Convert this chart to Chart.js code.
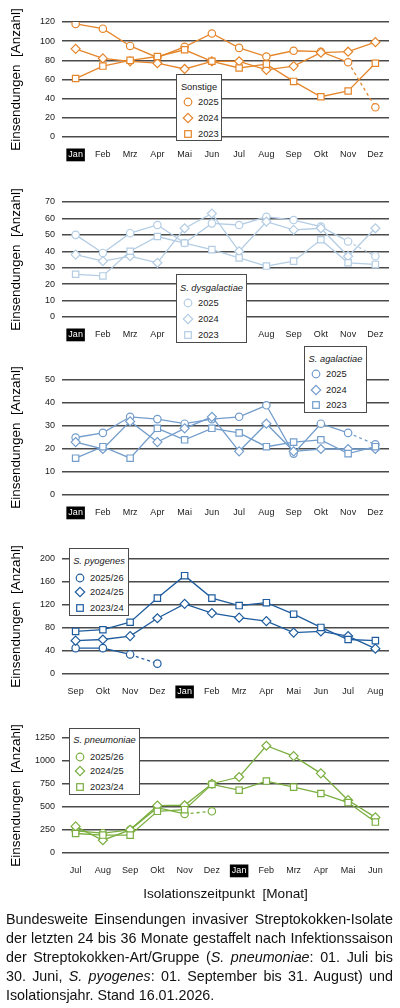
<!DOCTYPE html>
<html>
<head>
<meta charset="utf-8">
<script src="https://cdn.jsdelivr.net/npm/chart.js"></script>
<style>
  body { margin: 0; background: #fff; width: 400px; height: 1008px; position: relative; overflow: hidden;
         font-family: Arial, "Liberation Sans", sans-serif; color: #1a1a1a; }
  .panel { position: absolute; left: 0; width: 400px; height: 178px; }
  .legend { position: absolute; background: #fff; border: 1.3px solid #4a4a4a; box-sizing: border-box; z-index: 2; }
  .legend .t { position: absolute; left: 0; right: 0; text-align: center; font-size: 9.3px; line-height: 12px; margin-top: -6px; white-space: nowrap; }
  .legend .row { position: absolute; font-size: 9.3px; line-height: 12px; margin-top: -6px; white-space: nowrap; }
  .legend svg { position: absolute; }
  #xtitle { position: absolute; left: 62px; width: 327px; top: 886px; text-align: center; font-size: 13.6px; white-space: pre; color: #111; }
  #caption { position: absolute; left: 6px; width: 387px; top: 910px; font-size: 14.3px; line-height: 19px; text-align: justify; color: #111; margin: 0; }
</style>
</head>
<body>
<canvas id="c1" class="panel" width="400" height="178" style="top:0px"></canvas>
<canvas id="c2" class="panel" width="400" height="178" style="top:180px"></canvas>
<canvas id="c3" class="panel" width="400" height="178" style="top:358px"></canvas>
<canvas id="c4" class="panel" width="400" height="178" style="top:537px"></canvas>
<canvas id="c5" class="panel" width="400" height="178" style="top:716px"></canvas>

<div id="xtitle">Isolationszeitpunkt  [Monat]</div>
<p id="caption">Bundesweite Einsendungen invasiver Streptokokken-Isolate der letzten 24 bis 36 Monate gestaffelt nach Infektionssaison der Streptokokken-Art/Gruppe (<i>S. pneumoniae</i>: 01. Juli bis 30. Juni, <i>S. pyogenes</i>: 01. September bis 31. August) und Isolationsjahr. Stand 16.01.2026.</p>

<script>
// Kategorien (Monate)
const monthsCal = ['Jan', 'Feb', 'Mrz', 'Apr', 'Mai', 'Jun', 'Jul', 'Aug', 'Sep', 'Okt', 'Nov', 'Dez'];
const monthsPyo = ['Sep', 'Okt', 'Nov', 'Dez', 'Jan', 'Feb', 'Mrz', 'Apr', 'Mai', 'Jun', 'Jul', 'Aug'];
const monthsPneu = ['Jul', 'Aug', 'Sep', 'Okt', 'Nov', 'Dez', 'Jan', 'Feb', 'Mrz', 'Apr', 'Mai', 'Jun'];

// Sonstige
const sonstige2025 = [118, 113, 95, 83, 94, 108, 93, 84, 90, 89, 78, 31];
const sonstige2024 = [92, 82, 79, 77, 71, 79, 79, 70, 74, 88, 89, 99];
const sonstige2023 = [61, 74, 80, 84, 91, 79, 72, 76, 58, 42, 48, 77];

// S. dysgalactiae
const dysga2025 = [50, 39, 51, 56, 45, 57, 56, 61, 59, 55, 46, 37];
const dysga2024 = [38, 34, 37, 33, 54, 63, 40, 58, 53, 54, 37, 54];
const dysga2023 = [26, 25, 40, 49, 45, 41, 36, 31, 34, 47, 33, 32];

// S. agalactiae
const agal2025 = [25, 27, 34, 33, 31, 33, 34, 39, 18, 31, 27, 22];
const agal2024 = [23, 20, 32, 23, 29, 34, 19, 31, 19, 20, 20, 20];
const agal2023 = [16, 21, 16, 29, 24, 29, 27, 21, 23, 24, 18, 21];

// S. pyogenes (Saison Sep-Aug)
const pyo2526 = [45, 45, 34, 18];
const pyo2425 = [58, 60, 66, 97, 122, 106, 98, 92, 72, 74, 66, 44];
const pyo2324 = [74, 77, 90, 132, 171, 132, 119, 124, 104, 81, 60, 58];

// S. pneumoniae (Saison Jul-Jun)
const pneu2526 = [241, 215, 252, 493, 425, 453];
const pneu2425 = [289, 139, 252, 515, 519, 753, 826, 1166, 1053, 866, 574, 387];
const pneu2324 = [212, 195, 194, 453, 471, 746, 683, 782, 716, 647, 548, 336];

// Serien-Namen
const yearNames = ['2025', '2024', '2023'];
const seasonNames = ['2025/26', '2024/25', '2023/24'];

// y-Achsen Ticks
const ticksSonstige = [0, 20, 40, 60, 80, 100, 120];
const ticksDysga = [0, 10, 20, 30, 40, 50, 60, 70];
const ticksAgal = [0, 10, 20, 30, 40, 50];
const ticksPyo = [0, 40, 80, 120, 160, 200];
const ticksPneu = [0, 250, 500, 750, 1000, 1250];

Chart.defaults.font.family = 'Arial, "Liberation Sans", sans-serif';
Chart.defaults.color = '#1a1a1a';

const markerStyles = ['circle', 'rectRot', 'rect'];
const markerRadius = [3.7, 4.5, 4.5];

function buildPanel(canvasId, labels, series, names, color, yTicks) {
    const datasets = series.map((data, i) => ({
        label: names[i],
        data: data,
        borderColor: color,
        borderWidth: 1.3,
        pointStyle: markerStyles[i],
        pointRadius: markerRadius[i],
        pointBorderWidth: 1.2,
        pointBorderColor: color,
        pointBackgroundColor: '#fff',
        // letzter Monat der laufenden Serie gestrichelt
        segment: i === 0 ? { borderDash: c => c.p1DataIndex === data.length - 1 ? [3, 3] : undefined } : undefined
    }));
    // reihenfolge: aelteste zuerst zeichnen
    datasets.reverse();

    new Chart(document.getElementById(canvasId), {
        type: 'line',
        data: { labels: labels, datasets: datasets },
        options: {
            responsive: false,
            animation: false,
            events: [],
            layout: { padding: { top: 22, right: 11, left: 0, bottom: 0 } },
            plugins: { legend: { display: false }, tooltip: { enabled: false } },
            scales: {
                x: {
                    offset: true,
                    grid: { display: false },
                    border: { display: false },
                    afterFit: s => { s.height = 41; },
                    ticks: {
                        font: { size: 9 },
                        padding: 4.5,
                        maxRotation: 0,
                        autoSkip: false,
                        showLabelBackdrop: true,
                        backdropPadding: { left: 2, right: 2, top: 1, bottom: 1 },
                        backdropColor: c => labels[c.index] === 'Jan' ? '#000' : 'rgba(0,0,0,0)',
                        color: c => labels[c.index] === 'Jan' ? '#fff' : '#1a1a1a'
                    }
                },
                y: {
                    min: yTicks[0],
                    max: yTicks[yTicks.length - 1],
                    afterBuildTicks: s => { s.ticks = yTicks.map(v => ({ value: v })); },
                    afterFit: s => { s.width = 62; },
                    grid: { color: '#4a4a4a', lineWidth: 1.5, drawTicks: false },
                    border: { display: false },
                    ticks: { font: { size: 9 }, padding: 7, callback: v => String(v) },
                    title: {
                        display: true,
                        text: 'Einsendungen  [Anzahl]',
                        font: { size: 13.5 },
                        color: '#000',
                        padding: { top: 8, bottom: 0 }
                    }
                }
            }
        }
    });
}

// HTML-Legende (Kasten mit Titel und drei Markern)
function markerSvg(style, color) {
    let shape = '';
    if (style === 'circle') shape = `<circle cx="6" cy="6" r="3.8" fill="#fff" stroke="${color}" stroke-width="1.2"/>`;
    else if (style === 'rectRot') shape = `<polygon points="6,1.3 10.7,6 6,10.7 1.3,6" fill="#fff" stroke="${color}" stroke-width="1.2"/>`;
    else shape = `<rect x="2.7" y="2.7" width="6.6" height="6.6" fill="#fff" stroke="${color}" stroke-width="1.2"/>`;
    return `<svg width="12" height="12" viewBox="0 0 12 12">${shape}</svg>`;
}

function buildLegend(box, title, italic, names, color) {
    const div = document.createElement('div');
    div.className = 'legend';
    div.style.left = box.left + 'px';
    div.style.top = box.top + 'px';
    div.style.width = box.width + 'px';
    div.style.height = box.height + 'px';
    let html = `<div class="t" style="top:${box.titleY}px;${italic ? 'font-style:italic;' : ''}">${title}</div>`;
    names.forEach((name, i) => {
        const y = box.rows[i];
        html += `<span style="position:absolute;left:${box.markX - 6}px;top:${y - 6}px;">${markerSvg(markerStyles[i], color)}</span>`;
        html += `<div class="row" style="left:${box.textX}px;top:${y}px;">${name}</div>`;
    });
    div.innerHTML = html;
    document.body.appendChild(div);
}

const orange = '#E5862C';
const lightBlue = '#B4CDE4';
const midBlue = '#739DCB';
const darkBlue = '#1F5C9E';
const green = '#7AAE3F';

buildPanel('c1', monthsCal, [sonstige2025, sonstige2024, sonstige2023], yearNames, orange, ticksSonstige);
buildPanel('c2', monthsCal, [dysga2025, dysga2024, dysga2023], yearNames, lightBlue, ticksDysga);
buildPanel('c3', monthsCal, [agal2025, agal2024, agal2023], yearNames, midBlue, ticksAgal);
buildPanel('c4', monthsPyo, [pyo2526, pyo2425, pyo2324], seasonNames, darkBlue, ticksPyo);
buildPanel('c5', monthsPneu, [pneu2526, pneu2425, pneu2324], seasonNames, green, ticksPneu);

buildLegend({ left: 176, top: 74, width: 46, height: 67, titleY: 12, rows: [27, 43, 59], markX: 11, textX: 21 },
    'Sonstige', false, yearNames, orange);
buildLegend({ left: 176, top: 274, width: 71, height: 69, titleY: 13, rows: [28, 44, 60], markX: 11, textX: 21 },
    'S. dysgalactiae', true, yearNames, lightBlue);
buildLegend({ left: 304, top: 346, width: 63, height: 67, titleY: 12, rows: [27, 43, 58], markX: 11, textX: 21 },
    'S. agalactiae', true, yearNames, midBlue);
buildLegend({ left: 69, top: 548, width: 60, height: 68, titleY: 12, rows: [29, 43, 59], markX: 10, textX: 20 },
    'S. pyogenes', true, seasonNames, darkBlue);
buildLegend({ left: 69, top: 728, width: 71, height: 67, titleY: 11, rows: [28, 42, 58], markX: 10, textX: 20 },
    'S. pneumoniae', true, seasonNames, green);
</script>
</body>
</html>
